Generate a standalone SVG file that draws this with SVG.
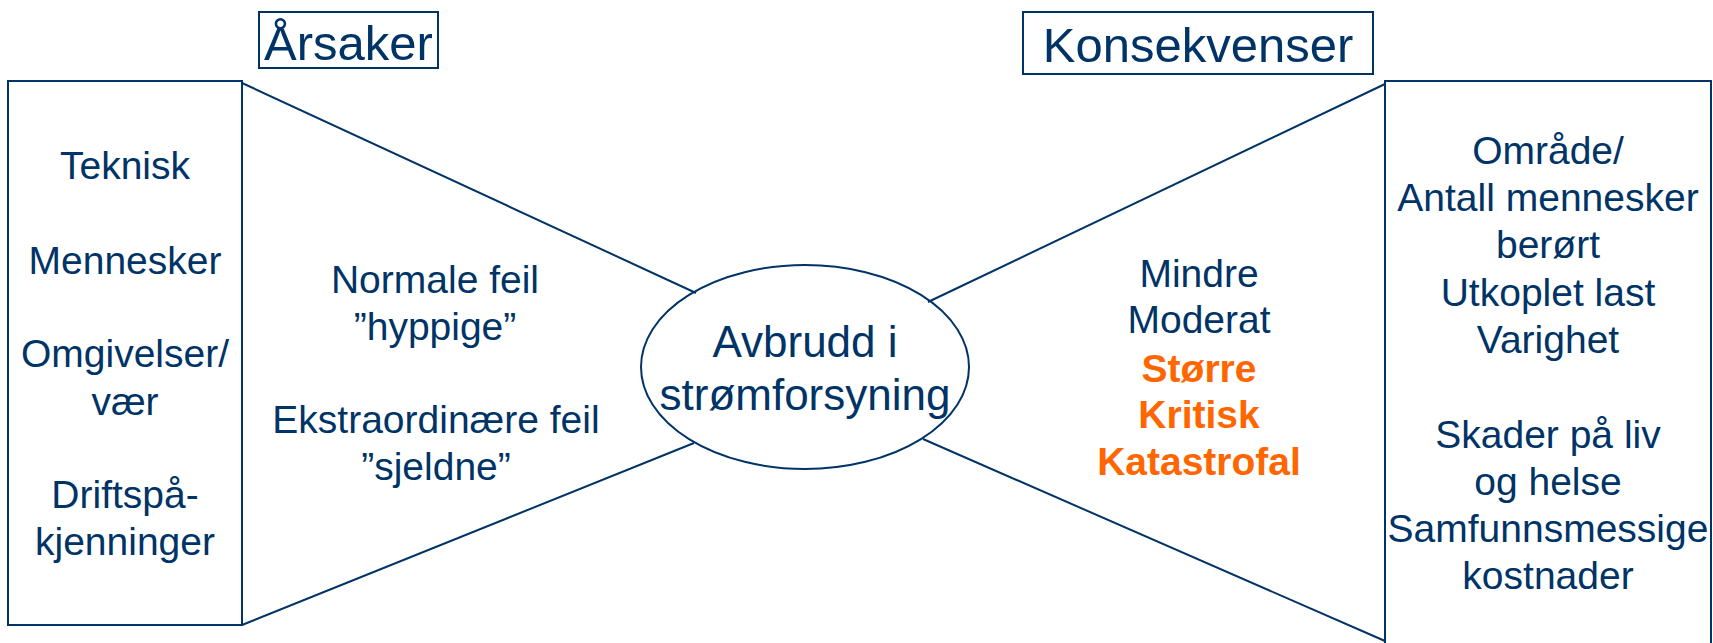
<svg xmlns="http://www.w3.org/2000/svg" width="1713" height="643" viewBox="0 0 1713 643">
  <style>
    .frame { fill: none; stroke: #003366; stroke-width: 2; }
    .link { fill: none; stroke: #003366; stroke-width: 2; }
    text { font-family: "Liberation Sans", Arial, sans-serif; fill: #003366; text-anchor: middle; }
    .title { font-size: 49px; }
    .item { font-size: 39px; }
    .core { font-size: 44px; }
    .severe { font-size: 39px; font-weight: bold; fill: #FF6600; }
  </style>
  <rect width="1713" height="643" fill="#ffffff"/>

  <!-- bow-tie connectors between the side boxes and the central event -->
  <g id="connectors">
    <line class="link" x1="242" y1="83" x2="696" y2="293"/>
    <line class="link" x1="242" y1="625" x2="694" y2="443"/>
    <line class="link" x1="928" y1="302" x2="1385" y2="84"/>
    <line class="link" x1="923" y1="439" x2="1385" y2="641"/>
  </g>

  <g id="title-causes">
    <rect class="frame" x="259" y="12" width="179" height="56"/>
    <text class="title" x="348.5" y="60">Årsaker</text>
  </g>

  <g id="title-consequences">
    <rect class="frame" x="1023" y="12" width="350" height="62"/>
    <text class="title" x="1198" y="62">Konsekvenser</text>
  </g>

  <g id="causes">
    <rect class="frame" x="8" y="81" width="234" height="544"/>
    <text class="item" x="125" y="179">Teknisk</text>
    <text class="item" x="125" y="274">Mennesker</text>
    <text class="item" x="125" y="367">Omgivelser/</text>
    <text class="item" x="125" y="415">vær</text>
    <text class="item" x="125" y="508">Driftspå-</text>
    <text class="item" x="125" y="555">kjenninger</text>
  </g>

  <g id="frequency">
    <text class="item" x="435" y="293">Normale feil</text>
    <text class="item" x="435" y="340">”hyppige”</text>
    <text class="item" x="436" y="433">Ekstraordinære feil</text>
    <text class="item" x="436" y="480">”sjeldne”</text>
  </g>

  <g id="event">
    <ellipse class="frame" cx="805" cy="367" rx="164" ry="102"/>
    <text class="core" x="805" y="357">Avbrudd i</text>
    <text class="core" x="805" y="410">strømforsyning</text>
  </g>

  <g id="severity">
    <text class="item" x="1199" y="287">Mindre</text>
    <text class="item" x="1199" y="333">Moderat</text>
    <text class="severe" x="1199" y="382">Større</text>
    <text class="severe" x="1199" y="428">Kritisk</text>
    <text class="severe" x="1199" y="475">Katastrofal</text>
  </g>

  <g id="consequences">
    <rect class="frame" x="1385" y="81" width="326" height="600"/>
    <text class="item" x="1548" y="164">Område/</text>
    <text class="item" x="1548" y="211">Antall mennesker</text>
    <text class="item" x="1548" y="258">berørt</text>
    <text class="item" x="1548" y="306">Utkoplet last</text>
    <text class="item" x="1548" y="353">Varighet</text>
    <text class="item" x="1548" y="448">Skader på liv</text>
    <text class="item" x="1548" y="495">og helse</text>
    <text class="item" x="1548" y="542">Samfunnsmessige</text>
    <text class="item" x="1548" y="589">kostnader</text>
  </g>
</svg>
